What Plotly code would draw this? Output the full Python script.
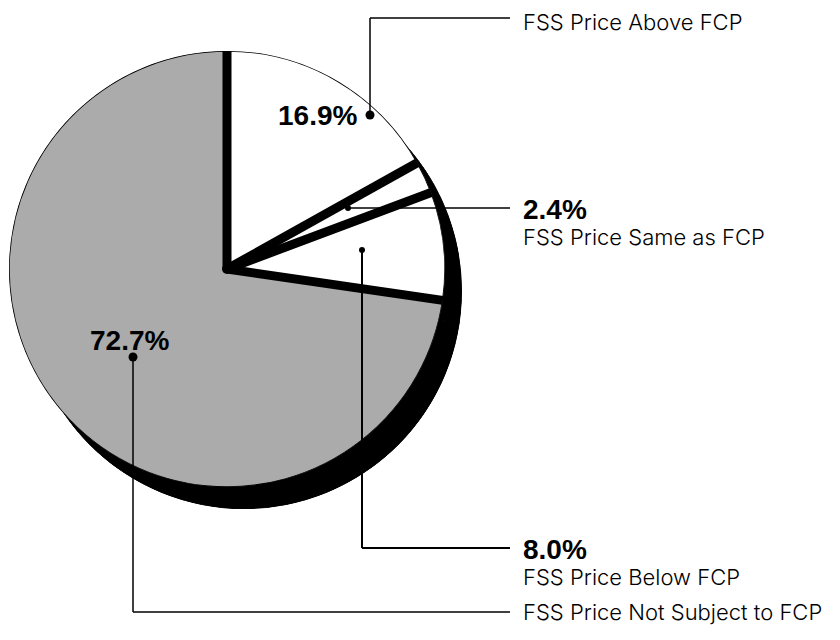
import plotly.graph_objects as go

# ---- data ----
categories = ["FSS Price Above FCP", "FSS Price Same as FCP",
              "FSS Price Below FCP", "FSS Price Not Subject to FCP"]
shares = [16.9, 2.4, 8.0, 72.7]
share_labels = ["16.9%", "2.4%", "8.0%", "72.7%"]
slice_colors = ["#ffffff", "#ffffff", "#ffffff", "#ababab"]

# ---- derived angles (degrees, clockwise from 12 o'clock) ----
total = sum(shares)
widths = [s / total * 360 for s in shares]
centers, bounds, acc = [], [], 0.0
for w in widths:
    bounds.append(acc)
    centers.append(acc + w / 2)
    acc += w

# ---- layout geometry (screen pixels; page body has an 8px margin) ----
W, H, OFF = 840, 640, 8
CX, CY, R = 227, 269, 218        # pie centre / radius on screen
SHX, SHY = 17, 22                # shadow offset
SEP_W = 9                        # separator thickness


def dom(cx, cy, rad):
    cx, cy = cx - OFF, cy - OFF
    return dict(x=[(cx - rad) / W, (cx + rad) / W],
                y=[1 - (cy + rad) / H, 1 - (cy - rad) / H])


def px(x):
    return (x - OFF) / W


def py(y):
    return 1 - (y - OFF) / H


fig = go.Figure()
ones = [1] * len(shares)

# shadow (polar subplot 1)
fig.add_trace(go.Barpolar(r=ones, theta=centers, width=widths, subplot="polar",
                          marker=dict(color=["black"] * 4, line=dict(color="black", width=1)),
                          hoverinfo="skip", showlegend=False))
# main pie (polar subplot 2)
fig.add_trace(go.Barpolar(r=ones, theta=centers, width=widths, subplot="polar2",
                          marker=dict(color=slice_colors, line=dict(color="black", width=1.5)),
                          text=[f"{c}: {s}" for c, s in zip(categories, share_labels)],
                          hoverinfo="text", showlegend=False))
# separators along the slice boundaries
sep_r, sep_t = [], []
for b in bounds:
    sep_r += [0, 1, None]
    sep_t += [b, b, None]
fig.add_trace(go.Scatterpolar(r=sep_r, theta=sep_t, subplot="polar2", mode="lines",
                              line=dict(color="black", width=SEP_W),
                              hoverinfo="skip", showlegend=False))
fig.add_trace(go.Scatterpolar(r=[0], theta=[0], subplot="polar2", mode="markers",
                              marker=dict(color="black", size=SEP_W + 1),
                              hoverinfo="skip", showlegend=False))

polar_common = dict(
    bgcolor="rgba(0,0,0,0)",
    radialaxis=dict(visible=False, range=[0, 1]),
    angularaxis=dict(visible=False, direction="clockwise", rotation=90),
)
fig.update_layout(
    polar=dict(domain=dom(CX + SHX, CY + SHY, R), **polar_common),
    polar2=dict(domain=dom(CX, CY, R), **polar_common),
)

# ---- leader lines, dots and labels (screen pixels) ----
reg_font = dict(family="Inter, DejaVu Sans", size=22, color="black", weight=300)
bold_font = dict(family="Liberation Sans, Arial", size=28, color="black", weight="bold")

leaders = [
    ([(370, 115), (370, 18), (510, 18)], 1.5, 4.5),
    ([(348, 208), (510, 208)], 1.5, 3),
    ([(362, 250), (362, 548), (510, 548)], 2, 3),
    ([(133, 357), (133, 612), (510, 612)], 1.5, 4.5),
]
shapes = []
for pts, lw, dr in leaders:
    for (x0, y0), (x1, y1) in zip(pts[:-1], pts[1:]):
        shapes.append(dict(type="line", xref="paper", yref="paper",
                           x0=px(x0), y0=py(y0), x1=px(x1), y1=py(y1),
                           line=dict(color="black", width=lw)))
    x0, y0 = pts[0]
    shapes.append(dict(type="circle", xref="paper", yref="paper",
                       xsizemode="pixel", ysizemode="pixel",
                       xanchor=px(x0), yanchor=py(y0),
                       x0=-dr, x1=dr, y0=-dr, y1=dr,
                       fillcolor="black", line=dict(color="black", width=0)))

annotations = []


def ann(text, x, y, font, xanchor="left"):
    annotations.append(dict(text=text, x=px(x), y=py(y), xref="paper", yref="paper",
                            xanchor=xanchor, yanchor="middle", showarrow=False,
                            font=font))


TX = 521
ann(categories[0], TX, 22, reg_font)
ann(share_labels[1], TX, 209, bold_font)
ann(categories[1], TX, 237, reg_font)
ann(share_labels[2], TX, 549, bold_font)
ann(categories[2], TX, 577, reg_font)
ann(categories[3], TX, 612, reg_font)
ann(share_labels[0], 359, 115, bold_font, xanchor="right")
ann(share_labels[3], 171, 340, bold_font, xanchor="right")

fig.update_layout(width=W, height=H, margin=dict(l=0, r=0, t=0, b=0),
                  paper_bgcolor="white", plot_bgcolor="white",
                  shapes=shapes, annotations=annotations)

fig.write_html("out.html")
